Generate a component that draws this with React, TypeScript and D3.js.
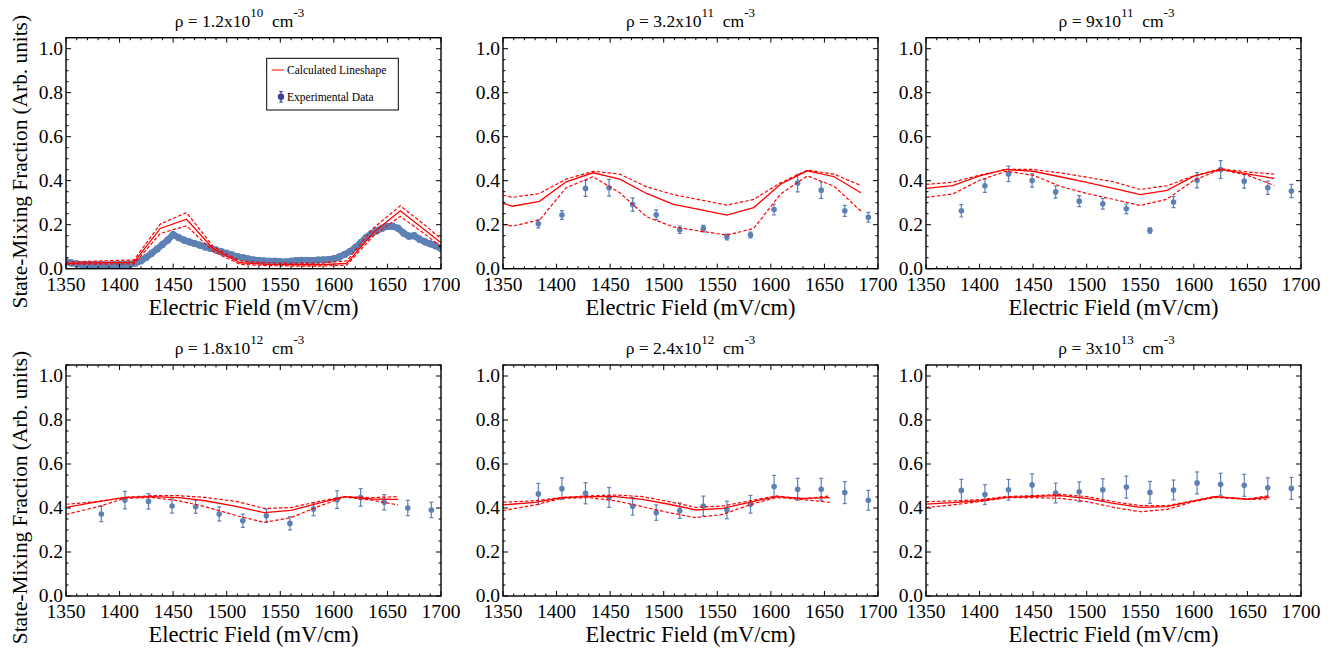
import React from 'react';
import * as d3 from 'd3';

// ---------- data ----------
const titleMantissa = ['1.2', '3.2', '9', '1.8', '2.4', '3'];
const titleExponent = ['10', '11', '11', '12', '12', '13'];

const xTickValues = [1350, 1400, 1450, 1500, 1550, 1600, 1650, 1700];
const yTickValues = [0, 0.2, 0.4, 0.6, 0.8, 1.0];
const yTickLabels = ['0.0', '0.2', '0.4', '0.6', '0.8', '1.0'];

// Panel 1: dense experimental scan [field, fraction]
const expDense: [number, number][] = [
  [1350, 0.032], [1355, 0.026], [1360, 0.021], [1365, 0.019], [1370, 0.018], [1375, 0.017],
  [1380, 0.017], [1385, 0.017], [1390, 0.017], [1395, 0.017], [1400, 0.018], [1405, 0.018],
  [1410, 0.02], [1415, 0.026], [1420, 0.036], [1425, 0.052], [1430, 0.07], [1435, 0.09],
  [1440, 0.11], [1445, 0.13], [1450, 0.155], [1455, 0.142], [1460, 0.13], [1465, 0.122],
  [1470, 0.114], [1475, 0.107], [1480, 0.099], [1485, 0.092], [1490, 0.085], [1495, 0.077],
  [1500, 0.07], [1505, 0.062], [1510, 0.055], [1515, 0.05], [1520, 0.044], [1525, 0.04],
  [1530, 0.037], [1535, 0.035], [1540, 0.034], [1545, 0.034], [1550, 0.032], [1555, 0.031],
  [1560, 0.034], [1565, 0.037], [1570, 0.038], [1575, 0.038], [1580, 0.037], [1585, 0.039],
  [1590, 0.04], [1595, 0.042], [1600, 0.045], [1605, 0.053], [1610, 0.065], [1615, 0.078],
  [1620, 0.096], [1625, 0.118], [1630, 0.142], [1635, 0.16], [1640, 0.172], [1645, 0.184],
  [1650, 0.192], [1655, 0.193], [1660, 0.184], [1665, 0.162], [1670, 0.148], [1675, 0.15],
  [1680, 0.134], [1685, 0.122], [1690, 0.113], [1695, 0.104], [1700, 0.092],
];
const expDenseErr = 0.013;

// Panels 2-6: experimental points
const expField = [1383, 1405, 1427, 1449, 1471, 1493, 1515, 1537, 1559, 1581, 1603, 1625, 1647, 1669, 1691];
const expP2 = [0.204, 0.244, 0.365, 0.368, 0.292, 0.245, 0.177, 0.182, 0.144, 0.153, 0.269, 0.389, 0.357, 0.263, 0.234];
const errP2 = [0.018, 0.02, 0.036, 0.038, 0.03, 0.022, 0.017, 0.015, 0.013, 0.013, 0.025, 0.04, 0.037, 0.025, 0.022];
const expP3 = [0.263, 0.377, 0.431, 0.401, 0.349, 0.307, 0.295, 0.272, 0.174, 0.303, 0.402, 0.451, 0.398, 0.368, 0.353];
const errP3 = [0.028, 0.03, 0.035, 0.03, 0.028, 0.025, 0.024, 0.022, 0.012, 0.025, 0.035, 0.04, 0.032, 0.03, 0.03];
const expP4 = [0.373, 0.436, 0.43, 0.409, 0.406, 0.373, 0.342, 0.365, 0.33, 0.395, 0.438, 0.448, 0.426, 0.4, 0.391];
const errP4 = [0.035, 0.04, 0.035, 0.032, 0.03, 0.032, 0.03, 0.03, 0.03, 0.03, 0.04, 0.04, 0.035, 0.035, 0.035];
const expP5 = [0.464, 0.488, 0.467, 0.448, 0.408, 0.379, 0.388, 0.409, 0.391, 0.417, 0.498, 0.485, 0.485, 0.47, 0.435];
const errP5 = [0.048, 0.049, 0.048, 0.045, 0.04, 0.035, 0.035, 0.045, 0.04, 0.04, 0.05, 0.05, 0.05, 0.05, 0.045];
const expP6 = [0.48, 0.461, 0.483, 0.505, 0.468, 0.474, 0.483, 0.495, 0.471, 0.482, 0.514, 0.508, 0.503, 0.492, 0.489];
const errP6 = [0.05, 0.045, 0.047, 0.05, 0.045, 0.045, 0.05, 0.05, 0.05, 0.045, 0.05, 0.05, 0.05, 0.045, 0.05];

// Calculated lineshapes (solid = central, upper/lower = dashed bounds)
const calcX1 = [1350, 1413.5, 1438, 1462.5, 1487.5, 1512.5, 1537.5, 1562.5, 1587.5, 1612, 1637, 1662, 1687, 1700];
const calcS1 = [0.024, 0.03, 0.183, 0.225, 0.09, 0.027, 0.02, 0.018, 0.018, 0.024, 0.165, 0.263, 0.168, 0.118];
const calcU1 = [0.03, 0.04, 0.203, 0.255, 0.1, 0.035, 0.027, 0.025, 0.026, 0.035, 0.185, 0.286, 0.19, 0.135];
const calcL1 = [0.02, 0.022, 0.16, 0.195, 0.078, 0.02, 0.014, 0.012, 0.012, 0.016, 0.15, 0.238, 0.15, 0.1];

const calcX2 = [1350, 1359, 1384, 1409, 1434, 1459, 1484, 1509, 1534, 1559, 1584, 1609, 1634, 1659, 1684];
const calcS2 = [0.297, 0.284, 0.306, 0.395, 0.436, 0.407, 0.342, 0.292, 0.269, 0.244, 0.278, 0.384, 0.445, 0.418, 0.345];
const calcU2 = [0.334, 0.324, 0.342, 0.407, 0.443, 0.43, 0.372, 0.337, 0.313, 0.289, 0.315, 0.39, 0.448, 0.43, 0.378];
const calcL2 = [0.201, 0.194, 0.221, 0.368, 0.418, 0.345, 0.236, 0.19, 0.171, 0.153, 0.183, 0.339, 0.422, 0.375, 0.262];

const calcX3 = [1350, 1375, 1400, 1425, 1450, 1475, 1500, 1525, 1550, 1575, 1600, 1625, 1650, 1675];
const calcS3 = [0.365, 0.378, 0.422, 0.451, 0.443, 0.418, 0.392, 0.365, 0.337, 0.356, 0.421, 0.451, 0.431, 0.41];
const calcU3 = [0.383, 0.393, 0.425, 0.452, 0.451, 0.436, 0.416, 0.395, 0.36, 0.377, 0.422, 0.454, 0.44, 0.43];
const calcL3 = [0.324, 0.34, 0.402, 0.443, 0.425, 0.375, 0.342, 0.315, 0.287, 0.316, 0.402, 0.451, 0.425, 0.378];

const calcX4 = [1350, 1380, 1405, 1430, 1455, 1480, 1510, 1535, 1560, 1585, 1610, 1635, 1660];
const calcS4 = [0.403, 0.429, 0.448, 0.452, 0.447, 0.433, 0.406, 0.379, 0.389, 0.421, 0.452, 0.441, 0.439];
const calcU4 = [0.417, 0.429, 0.448, 0.456, 0.456, 0.448, 0.429, 0.398, 0.402, 0.429, 0.452, 0.447, 0.452];
const calcL4 = [0.371, 0.406, 0.444, 0.448, 0.433, 0.406, 0.364, 0.335, 0.356, 0.406, 0.45, 0.436, 0.414];

const calcX5 = [1350, 1380, 1405, 1430, 1455, 1480, 1505, 1530, 1555, 1580, 1605, 1630, 1655];
const calcS5 = [0.414, 0.426, 0.447, 0.452, 0.452, 0.439, 0.417, 0.391, 0.398, 0.426, 0.452, 0.444, 0.447];
const calcU5 = [0.426, 0.433, 0.448, 0.455, 0.459, 0.452, 0.429, 0.403, 0.409, 0.432, 0.455, 0.441, 0.455];
const calcL5 = [0.388, 0.414, 0.444, 0.447, 0.433, 0.406, 0.379, 0.356, 0.371, 0.414, 0.448, 0.438, 0.426];

const calcX6 = [1350, 1375, 1400, 1425, 1450, 1475, 1500, 1525, 1550, 1575, 1600, 1620, 1650, 1670];
const calcS6 = [0.418, 0.424, 0.433, 0.448, 0.453, 0.456, 0.444, 0.421, 0.403, 0.406, 0.432, 0.452, 0.439, 0.45];
const calcU6 = [0.429, 0.432, 0.438, 0.452, 0.456, 0.462, 0.452, 0.429, 0.411, 0.411, 0.433, 0.453, 0.441, 0.456];
const calcL6 = [0.402, 0.414, 0.429, 0.447, 0.447, 0.444, 0.429, 0.403, 0.383, 0.394, 0.429, 0.448, 0.439, 0.441];

const legendLabels = ['Calculated Lineshape', 'Experimental Data'];

// ---------- layout / style ----------
const W = 1334, H = 651;
const colX = [66, 503, 926];
const rowY = [37.7, 365];
const PW = 375, PH = 231;
const titleShift = [-14, 0, 3];
const ylabShift = [8.5, 17];
const BLUE = '#5E81B5';
const RED = '#FF0000';
const LEG_BLUE = '#3d3d9a';
const FONT = 'Liberation Serif';

type PanelData = {
  calcX: number[]; s: number[]; u: number[]; l: number[];
  exp?: number[]; err?: number[];
};
const panels: PanelData[] = [
  { calcX: calcX1, s: calcS1, u: calcU1, l: calcL1 },
  { calcX: calcX2, s: calcS2, u: calcU2, l: calcL2, exp: expP2, err: errP2 },
  { calcX: calcX3, s: calcS3, u: calcU3, l: calcL3, exp: expP3, err: errP3 },
  { calcX: calcX4, s: calcS4, u: calcU4, l: calcL4, exp: expP4, err: errP4 },
  { calcX: calcX5, s: calcS5, u: calcU5, l: calcL5, exp: expP5, err: errP5 },
  { calcX: calcX6, s: calcS6, u: calcU6, l: calcL6, exp: expP6, err: errP6 },
];

const txt = (size: number): React.CSSProperties => ({ fontFamily: FONT, fontSize: size });

function Panel({ idx }: { idx: number }) {
  const col = idx % 3, row = Math.floor(idx / 3);
  const x0 = colX[col], y0 = rowY[row];
  const xs = d3.scaleLinear().domain([1350, 1700]).range([x0, x0 + PW]);
  const ys = d3.scaleLinear().domain([0, 1.05]).range([y0 + PH, y0]);
  const p = panels[idx];
  const line = d3.line<[number, number]>().x(d => xs(d[0])).y(d => ys(d[1]));
  const mk = (arr: number[]) => p.calcX.map((x, i) => [x, arr[i]] as [number, number]);
  const minorX = xs.ticks(35);
  const minorY = ys.ticks(21);
  const clipId = `clip${idx}`;
  const cx = x0 + PW / 2;
  const dense = !p.exp;
  const pts: { x: number; y: number; e: number; r: number }[] = p.exp
    ? expField.map((f, i) => ({ x: f, y: p.exp![i], e: p.err![i], r: 2.8 }))
    : expDense.map(d => ({ x: d[0], y: d[1], e: expDenseErr, r: 3.5 }));

  return (
    <g>
      <defs>
        <clipPath id={clipId}>
          <rect x={x0} y={y0} width={PW} height={PH} />
        </clipPath>
      </defs>
      {/* title */}
      <text x={cx + titleShift[col]} y={y0 - 11} textAnchor="middle" style={txt(17.5)} fill="#000">
        <tspan>{`ρ = ${titleMantissa[idx]}x10`}</tspan>
        <tspan style={txt(13)} dy={-10}>{titleExponent[idx]}</tspan>
        <tspan dy={10}>{'\u00A0\u00A0cm'}</tspan>
        <tspan style={txt(13)} dy={-10}>-3</tspan>
      </text>
      {/* data */}
      <g clipPath={`url(#${clipId})`}>
        {dense && (
          <path
            d={line(expDense) || ''}
            fill="none"
            stroke={BLUE}
            strokeWidth={6.5}
            strokeLinejoin="round"
            strokeLinecap="round"
          />
        )}
        {pts.map((d, i) => (
          <g key={'e' + i} stroke={BLUE} strokeWidth={1.2}>
            <line x1={xs(d.x)} x2={xs(d.x)} y1={ys(d.y - d.e)} y2={ys(d.y + d.e)} />
            <line x1={xs(d.x) - 2} x2={xs(d.x) + 2} y1={ys(d.y - d.e)} y2={ys(d.y - d.e)} />
            <line x1={xs(d.x) - 2} x2={xs(d.x) + 2} y1={ys(d.y + d.e)} y2={ys(d.y + d.e)} />
          </g>
        ))}
        {pts.map((d, i) => (
          <circle key={'c' + i} cx={xs(d.x)} cy={ys(d.y)} r={d.r} fill={BLUE} />
        ))}
        <path d={line(mk(p.u)) || ''} fill="none" stroke={RED} strokeWidth={1.2} strokeDasharray="3.5,2" />
        <path d={line(mk(p.l)) || ''} fill="none" stroke={RED} strokeWidth={1.2} strokeDasharray="3.5,2" />
        <path d={line(mk(p.s)) || ''} fill="none" stroke={RED} strokeWidth={1.3} />
      </g>
      {/* ticks */}
      <g stroke="#000" strokeWidth={1}>
        {minorX.map((t, i) => {
          const major = xTickValues.includes(t);
          const len = major ? 5 : 2.5;
          return (
            <g key={'tx' + i}>
              <line x1={xs(t)} x2={xs(t)} y1={y0 + PH} y2={y0 + PH - len} />
              <line x1={xs(t)} x2={xs(t)} y1={y0} y2={y0 + len} />
            </g>
          );
        })}
        {minorY.map((t, i) => {
          const major = yTickValues.some(v => Math.abs(v - t) < 1e-6);
          const len = major ? 5 : 2.5;
          return (
            <g key={'ty' + i}>
              <line x1={x0} x2={x0 + len} y1={ys(t)} y2={ys(t)} />
              <line x1={x0 + PW} x2={x0 + PW - len} y1={ys(t)} y2={ys(t)} />
            </g>
          );
        })}
      </g>
      <rect x={x0} y={y0} width={PW} height={PH} fill="none" stroke="#000" strokeWidth={1.4} />
      {/* tick labels */}
      {xTickValues.map((t, i) => (
        <text key={'xl' + i} x={xs(t)} y={y0 + PH + 22} textAnchor="middle" style={txt(19.5)} fill="#000">
          {t}
        </text>
      ))}
      {yTickValues.map((t, i) => (
        <text key={'yl' + i} x={x0 - 3} y={ys(t)} dy="0.33em" textAnchor="end" style={txt(19.5)} fill="#000">
          {yTickLabels[i]}
        </text>
      ))}
      {/* axis titles */}
      <text x={cx} y={y0 + PH + 46} textAnchor="middle" style={txt(22.5)} fill="#000">
        Electric Field (mV/cm)
      </text>
      {col === 0 && (
        <text
          transform={`translate(27,${y0 + PH / 2 + ylabShift[row]}) rotate(-90)`}
          textAnchor="middle"
          style={txt(21.3)}
          fill="#000"
        >
          State-Mixing Fraction (Arb. units)
        </text>
      )}
      {idx === 0 && (
        <g>
          <rect x={266.7} y={58.3} width={131.6} height={51.7} fill="#fff" stroke="#000" strokeWidth={1} />
          <line x1={271.7} x2={284} y1={70} y2={70} stroke={RED} strokeWidth={1} />
          <text x={287} y={74} style={txt(11.5)} fill="#000">{legendLabels[0]}</text>
          <line x1={281} x2={281} y1={91.5} y2={102} stroke={LEG_BLUE} strokeWidth={1.2} />
          <line x1={279.3} x2={282.7} y1={91.5} y2={91.5} stroke={LEG_BLUE} strokeWidth={1.2} />
          <line x1={279.3} x2={282.7} y1={102} y2={102} stroke={LEG_BLUE} strokeWidth={1.2} />
          <circle cx={281} cy={96.7} r={3.2} fill={LEG_BLUE} />
          <text x={287} y={100.5} style={txt(11.5)} fill="#000">{legendLabels[1]}</text>
        </g>
      )}
    </g>
  );
}

export default function App() {
  return (
    <svg
      width={W}
      height={H}
      viewBox={`0 0 ${W} ${H}`}
      style={{ position: 'absolute', left: 0, top: 0, display: 'block', background: '#fff' }}
    >
      <rect x={0} y={0} width={W} height={H} fill="#fff" />
      {panels.map((_, i) => (
        <Panel key={i} idx={i} />
      ))}
    </svg>
  );
}
